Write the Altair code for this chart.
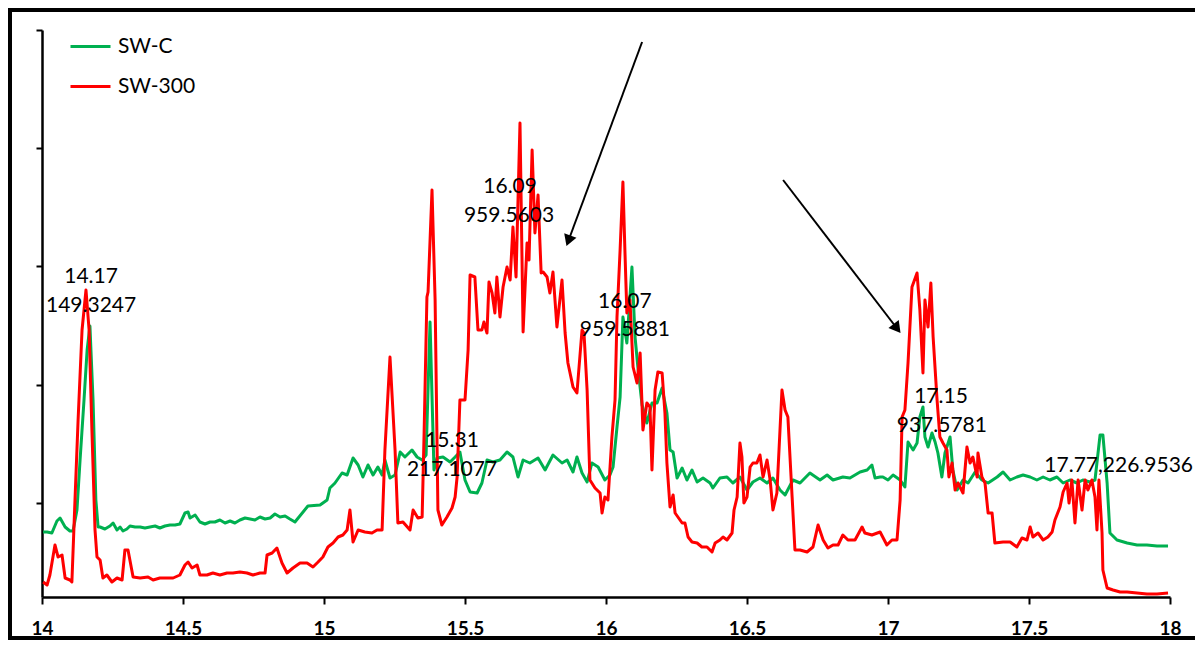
import altair as alt
import pandas as pd

# ---- data (time in min, intensity in arbitrary units) ----
sw_c_time = [14.004, 14.018, 14.035, 14.053, 14.064, 14.082, 14.099, 14.110, 14.124, 14.135,
             14.149, 14.160, 14.170, 14.181, 14.191, 14.199, 14.206, 14.223, 14.241, 14.252,
             14.266, 14.277, 14.287, 14.301, 14.312, 14.330, 14.348, 14.365, 14.383, 14.401,
             14.418, 14.436, 14.454, 14.472, 14.489, 14.507, 14.518, 14.525, 14.543, 14.560,
             14.578, 14.596, 14.613, 14.631, 14.649, 14.667, 14.684, 14.702, 14.720, 14.738,
             14.755, 14.773, 14.791, 14.809, 14.826, 14.844, 14.862, 14.879, 14.897, 14.943,
             14.986, 15.011, 15.021, 15.039, 15.064, 15.082, 15.103, 15.121, 15.138, 15.156,
             15.174, 15.191, 15.206, 15.216, 15.234, 15.252, 15.270, 15.287, 15.312, 15.330,
             15.348, 15.362, 15.376, 15.390, 15.401, 15.422, 15.447, 15.465, 15.482, 15.500,
             15.518, 15.543, 15.560, 15.578, 15.599, 15.624, 15.649, 15.670, 15.688, 15.706,
             15.730, 15.759, 15.784, 15.812, 15.844, 15.862, 15.883, 15.897, 15.915, 15.933,
             15.950, 15.972, 15.996, 16.014, 16.025, 16.039, 16.050, 16.060, 16.074, 16.092,
             16.103, 16.113, 16.128, 16.145, 16.163, 16.181, 16.199, 16.216, 16.227, 16.238,
             16.252, 16.270, 16.287, 16.305, 16.323, 16.344, 16.369, 16.379, 16.404, 16.429,
             16.450, 16.475, 16.500, 16.521, 16.546, 16.571, 16.592, 16.617, 16.635, 16.663,
             16.688, 16.723, 16.759, 16.784, 16.805, 16.840, 16.865, 16.901, 16.926, 16.943,
             16.954, 16.972, 16.982, 17.000, 17.018, 17.043, 17.060, 17.071, 17.089, 17.103,
             17.113, 17.124, 17.131, 17.142, 17.156, 17.167, 17.177, 17.191, 17.202, 17.220,
             17.230, 17.245, 17.266, 17.284, 17.309, 17.333, 17.355, 17.387, 17.408, 17.433,
             17.457, 17.479, 17.504, 17.528, 17.550, 17.574, 17.599, 17.621, 17.645, 17.670,
             17.691, 17.716, 17.734, 17.752, 17.762, 17.777, 17.787, 17.812, 17.848, 17.883,
             17.918, 17.954, 17.993]
sw_c_int = [65, 65, 64, 76, 79, 70, 66, 66, 87, 137,
            197, 247, 271, 197, 97, 70, 70, 68, 71, 74,
            67, 70, 66, 68, 71, 70, 70, 69, 70, 71,
            69, 71, 72, 72, 73, 84, 85, 79, 82, 75,
            73, 75, 75, 77, 74, 76, 74, 77, 79, 78,
            77, 80, 78, 79, 83, 80, 81, 78, 75, 91,
            92, 97, 109, 114, 124, 122, 139, 132, 120, 132,
            122, 130, 122, 137, 119, 122, 145, 140, 147, 140,
            137, 142, 275, 127, 139, 140, 135, 140, 145, 117,
            105, 104, 114, 137, 135, 137, 145, 140, 120, 137,
            134, 139, 127, 142, 134, 137, 125, 140, 124, 115,
            134, 130, 117, 122, 130, 170, 200, 280, 254, 330,
            260, 230, 192, 174, 194, 194, 209, 184, 147, 145,
            119, 129, 117, 127, 115, 119, 114, 109, 119, 120,
            114, 120, 107, 115, 119, 114, 119, 107, 102, 117,
            114, 124, 117, 122, 117, 120, 119, 125, 127, 132,
            119, 120, 120, 117, 122, 117, 110, 155, 147, 154,
            180, 190, 160, 150, 164, 155, 144, 120, 144, 160,
            127, 107, 117, 114, 125, 117, 114, 120, 125, 117,
            120, 122, 120, 117, 120, 117, 120, 114, 117, 114,
            117, 115, 117, 162, 162, 114, 64, 57, 54, 52,
            52, 51, 51]

sw_300_time = [14.004, 14.018, 14.028, 14.046, 14.057, 14.071, 14.082, 14.099, 14.106, 14.117,
               14.128, 14.142, 14.156, 14.167, 14.177, 14.188, 14.195, 14.206, 14.216, 14.230,
               14.248, 14.266, 14.284, 14.294, 14.305, 14.323, 14.348, 14.376, 14.394, 14.418,
               14.443, 14.465, 14.489, 14.507, 14.518, 14.532, 14.550, 14.560, 14.585, 14.606,
               14.631, 14.656, 14.677, 14.702, 14.727, 14.748, 14.773, 14.791, 14.798, 14.816,
               14.833, 14.851, 14.869, 14.890, 14.915, 14.940, 14.961, 14.979, 14.996, 15.014,
               15.032, 15.050, 15.067, 15.082, 15.092, 15.103, 15.121, 15.145, 15.170, 15.188,
               15.206, 15.216, 15.234, 15.252, 15.262, 15.280, 15.305, 15.316, 15.333, 15.348,
               15.355, 15.365, 15.369, 15.383, 15.394, 15.404, 15.418, 15.436, 15.454, 15.465,
               15.472, 15.482, 15.500, 15.511, 15.518, 15.535, 15.546, 15.560, 15.567, 15.578,
               15.585, 15.596, 15.606, 15.613, 15.624, 15.635, 15.649, 15.660, 15.670, 15.681,
               15.695, 15.706, 15.720, 15.727, 15.738, 15.748, 15.759, 15.770, 15.777, 15.791,
               15.801, 15.812, 15.826, 15.844, 15.855, 15.865, 15.883, 15.897, 15.915, 15.922,
               15.933, 15.943, 15.961, 15.979, 15.986, 15.996, 16.007, 16.021, 16.032, 16.039,
               16.050, 16.060, 16.067, 16.074, 16.085, 16.096, 16.110, 16.121, 16.131, 16.145,
               16.156, 16.163, 16.174, 16.184, 16.199, 16.209, 16.216, 16.227, 16.238, 16.245,
               16.255, 16.270, 16.280, 16.291, 16.305, 16.323, 16.340, 16.358, 16.376, 16.387,
               16.404, 16.415, 16.429, 16.447, 16.454, 16.465, 16.475, 16.482, 16.489, 16.500,
               16.511, 16.521, 16.535, 16.546, 16.557, 16.571, 16.582, 16.592, 16.606, 16.617,
               16.624, 16.635, 16.645, 16.660, 16.670, 16.688, 16.713, 16.734, 16.752, 16.770,
               16.787, 16.805, 16.823, 16.840, 16.858, 16.883, 16.908, 16.918, 16.943, 16.972,
               16.996, 17.014, 17.032, 17.043, 17.050, 17.060, 17.071, 17.085, 17.103, 17.113,
               17.124, 17.131, 17.142, 17.152, 17.160, 17.174, 17.184, 17.195, 17.209, 17.216,
               17.227, 17.238, 17.248, 17.266, 17.280, 17.291, 17.301, 17.316, 17.319, 17.333,
               17.344, 17.355, 17.369, 17.379, 17.408, 17.433, 17.457, 17.475, 17.493, 17.504,
               17.514, 17.532, 17.550, 17.567, 17.582, 17.592, 17.610, 17.621, 17.635, 17.642,
               17.652, 17.663, 17.674, 17.688, 17.699, 17.709, 17.723, 17.734, 17.741, 17.748,
               17.759, 17.762, 17.777, 17.798, 17.823, 17.848, 17.883, 17.918, 17.954, 17.993]
sw_300_int = [15, 12, 22, 52, 40, 42, 19, 17, 15, 97,
              177, 267, 307, 267, 167, 67, 40, 37, 19, 22,
              15, 19, 17, 47, 47, 20, 19, 20, 17, 19,
              19, 19, 22, 32, 35, 29, 32, 22, 22, 24,
              22, 24, 24, 25, 24, 22, 24, 24, 42, 44,
              49, 34, 24, 29, 34, 34, 30, 35, 40, 50,
              54, 60, 62, 67, 87, 55, 67, 65, 64, 67,
              67, 147, 240, 147, 74, 75, 67, 87, 79, 80,
              164, 300, 305, 407, 297, 87, 72, 80, 89, 100,
              120, 197, 197, 247, 322, 320, 267, 267, 275, 264,
              315, 304, 284, 320, 280, 310, 330, 317, 370, 320,
              474, 265, 354, 337, 447, 364, 402, 324, 325, 320,
              304, 325, 270, 317, 264, 234, 210, 204, 267, 264,
              207, 117, 109, 104, 84, 100, 97, 160, 197, 280,
              347, 415, 347, 284, 297, 230, 214, 244, 167, 194,
              190, 127, 207, 225, 224, 184, 134, 90, 102, 84,
              80, 74, 74, 60, 55, 54, 50, 50, 45, 54,
              57, 60, 57, 64, 87, 100, 154, 140, 94, 100,
              130, 134, 134, 142, 120, 137, 117, 87, 104, 167,
              207, 187, 180, 100, 47, 47, 45, 50, 72, 57,
              49, 52, 52, 62, 57, 57, 70, 64, 62, 65,
              52, 57, 57, 97, 180, 187, 234, 310, 324, 287,
              224, 297, 270, 314, 260, 197, 160, 154, 147, 120,
              134, 107, 114, 104, 150, 134, 140, 120, 144, 120,
              114, 84, 84, 54, 55, 55, 50, 59, 57, 70,
              60, 64, 57, 60, 65, 77, 90, 105, 114, 94,
              117, 74, 117, 87, 117, 107, 117, 100, 67, 117,
              64, 27, 9, 7, 5, 5, 4, 3, 3, 4]

series_names = ["SW-C", "SW-300"]
series_colors = ["#00B050", "#FF0000"]

label_text = ["14.17", "149.3247", "16.09", "959.5603", "16.07", "959.5881",
              "15.31", "217.1077", "17.15", "937.5781", "17.77,226.9536"]
label_time = [14.174, 14.174, 15.660, 15.656, 16.067, 16.067,
              15.454, 15.454, 17.188, 17.191, 17.818]
label_int = [320, 291, 410, 381, 295, 267, 156, 127, 200, 171, 131]

arrow_start_time = [16.128, 16.628]
arrow_start_int = [555, 417]
arrow_head_time = [15.869, 17.028]
arrow_head_int = [358, 270]

x_ticks = [14, 14.5, 15, 15.5, 16, 16.5, 17, 17.5, 18]
y_ticks = [94, 212, 331, 449, 567]

# ---- tables ----
lines = pd.concat([
    pd.DataFrame({"t": sw_c_time, "v": sw_c_int, "series": series_names[0]}),
    pd.DataFrame({"t": sw_300_time, "v": sw_300_int, "series": series_names[1]}),
], ignore_index=True)
labels = pd.DataFrame({"t": label_time, "v": label_int, "label": label_text})
arrows = pd.DataFrame({"t": arrow_start_time, "v": arrow_start_int,
                       "t2": arrow_head_time, "v2": arrow_head_int})
heads1 = pd.DataFrame({"t": arrow_head_time[:1], "v": arrow_head_int[:1]})
heads2 = pd.DataFrame({"t": arrow_head_time[1:], "v": arrow_head_int[1:]})

FONT = "Lato"

x_enc = alt.X("t:Q",
              scale=alt.Scale(domain=[14, 18], nice=False, zero=False),
              axis=alt.Axis(values=x_ticks, format="~g", title=None, grid=False,
                            domainColor="black", domainWidth=2.5,
                            tickColor="black", tickWidth=2, tickSize=7,
                            labelFont=FONT, labelFontWeight="bold", labelFontSize=19,
                            labelColor="black", labelPadding=15, labelFlush=False,
                            labelOverlap=False))
y_enc = alt.Y("v:Q",
              scale=alt.Scale(domain=[0, 567], nice=False, zero=False),
              axis=alt.Axis(values=y_ticks, labels=False, title=None, grid=False,
                            domainColor="black", domainWidth=2.5,
                            tickColor="black", tickWidth=2, tickSize=6))

color_enc = alt.Color("series:N",
                      scale=alt.Scale(domain=series_names, range=series_colors),
                      legend=alt.Legend(title=None, orient="none", legendX=27, legendY=-5,
                                        symbolType="stroke", symbolSize=1600,
                                        symbolStrokeWidth=3, labelFont=FONT,
                                        labelFontSize=21, labelColor="black",
                                        labelOffset=6, rowPadding=8, padding=0))

base = alt.Chart(lines)
green = base.transform_filter(alt.datum.series == series_names[0]).mark_line(
    strokeWidth=3, strokeJoin="round").encode(x=x_enc, y=y_enc, color=color_enc)
red = base.transform_filter(alt.datum.series == series_names[1]).mark_line(
    strokeWidth=3, strokeJoin="round").encode(x=x_enc, y=y_enc, color=color_enc)

text = alt.Chart(labels).mark_text(font=FONT, fontSize=21, color="black",
                                   align="center", baseline="middle").encode(
    x=x_enc, y=y_enc, text="label:N")

arrow_lines = alt.Chart(arrows).mark_rule(color="black", strokeWidth=2).encode(
    x=x_enc, y=y_enc, x2="t2:Q", y2="v2:Q")
head_a = alt.Chart(heads1).mark_point(shape="triangle", filled=True, size=170,
                                      color="black", opacity=1, angle=200).encode(x=x_enc, y=y_enc)
head_b = alt.Chart(heads2).mark_point(shape="triangle", filled=True, size=170,
                                      color="black", opacity=1, angle=142).encode(x=x_enc, y=y_enc)

# picture frame (top, left and bottom edges; the right edge is cut off in the original)
one = pd.DataFrame({"k": [0]})
frame_top = alt.Chart(one).mark_rule(color="black", strokeWidth=4).encode(
    x=alt.value(-34), x2=alt.value(1400), y=alt.value(-20))
frame_bottom = alt.Chart(one).mark_rule(color="black", strokeWidth=4).encode(
    x=alt.value(-34), x2=alt.value(1400), y=alt.value(608))
frame_left = alt.Chart(one).mark_rule(color="black", strokeWidth=4).encode(
    x=alt.value(-32), y=alt.value(-22), y2=alt.value(610))

chart = alt.layer(green, red, text, arrow_lines, head_a, head_b,
                  frame_top, frame_bottom, frame_left).properties(
    width=1128, height=567,
    padding={"left": 34, "top": 22, "right": 25, "bottom": 44},
    autosize=alt.AutoSizeParams(type="none"),
    background="white",
).configure_view(strokeWidth=0)

chart.save("out.html", embed_options={"renderer": "svg", "actions": False})
